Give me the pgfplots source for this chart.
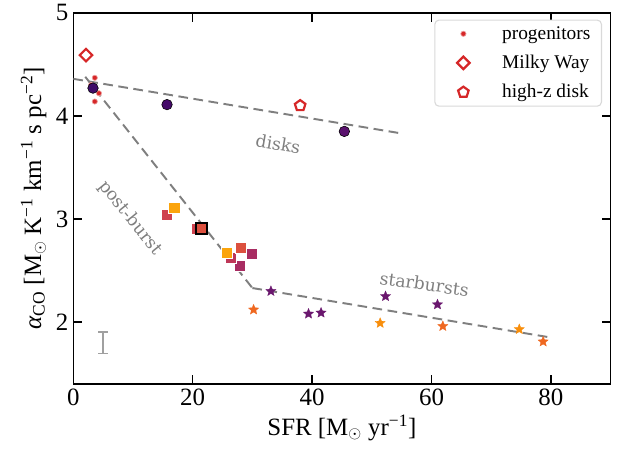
\documentclass[border=0pt]{standalone}
\usepackage{fontspec}
\setmainfont{Liberation Serif}
\newfontfamily\annfont{DejaVu Serif}
\usepackage{pgfplots}
\pgfplotsset{compat=1.18}
\usetikzlibrary{calc,plotmarks}

\definecolor{prog}{RGB}{214,39,40}
\definecolor{dgray}{RGB}{127,127,127}
\definecolor{ebar}{RGB}{160,160,160}
\definecolor{diskA}{RGB}{62,12,104}
\definecolor{diskB}{RGB}{68,10,104}
\definecolor{diskC}{RGB}{90,18,110}
\definecolor{sqOrange}{RGB}{251,164,12}
\definecolor{sqCrimson}{RGB}{207,66,78}
\definecolor{sqRed}{RGB}{220,80,62}
\definecolor{sqRose}{RGB}{190,55,88}
\definecolor{sqMaroon}{RGB}{168,44,98}
\definecolor{stPurple}{RGB}{106,23,110}
\definecolor{stOrange}{RGB}{248,142,12}
\definecolor{stRed}{RGB}{239,104,32}

\pgfdeclareplotmark{fstar}{%
  \pgfpathmoveto{\pgfpointpolar{90}{\pgfplotmarksize}}%
  \pgfpathlineto{\pgfpointpolar{126}{0.45*\pgfplotmarksize}}%
  \pgfpathlineto{\pgfpointpolar{162}{\pgfplotmarksize}}%
  \pgfpathlineto{\pgfpointpolar{198}{0.45*\pgfplotmarksize}}%
  \pgfpathlineto{\pgfpointpolar{234}{\pgfplotmarksize}}%
  \pgfpathlineto{\pgfpointpolar{270}{0.45*\pgfplotmarksize}}%
  \pgfpathlineto{\pgfpointpolar{306}{\pgfplotmarksize}}%
  \pgfpathlineto{\pgfpointpolar{342}{0.45*\pgfplotmarksize}}%
  \pgfpathlineto{\pgfpointpolar{18}{\pgfplotmarksize}}%
  \pgfpathlineto{\pgfpointpolar{54}{0.45*\pgfplotmarksize}}%
  \pgfpathclose
  \pgfusepathqfillstroke}

\begin{document}
\begin{tikzpicture}
\begin{axis}[
    width=5.373in, height=3.71in, scale only axis,
    xmin=0, xmax=90, ymin=1.4, ymax=5,
    xtick={0,20,40,60,80}, ytick={2,3,4,5},
    tick align=inside, major tick length=6.5pt,
    every tick/.style={black, line width=1pt},
    axis line style={line width=1.1pt},
    tick label style={font=\fontsize{18}{20}\selectfont},
    label style={font=\fontsize{18}{20}\selectfont},
    /pgf/number format/assume math mode=true,
    xlabel={SFR [M$_\odot$ yr\textsuperscript{−1}]},
    ylabel={{\itshape α}\textsubscript{CO} [M$_\odot$ K\textsuperscript{−1} km\textsuperscript{−1} s pc\textsuperscript{−2}]},
    legend cell align=left,
    legend image code/.code={%
        \path (0cm,-0.15cm) (1.4cm,0.15cm);
        \draw[mark repeat=2,mark phase=2,#1] plot coordinates {(0.25cm,0cm)(0.5cm,0cm)(0.75cm,0cm)};},
    legend style={at={(0.984,0.982)}, anchor=north east, draw=black!15,
        line width=0.8pt, rounded corners=3pt,
        font=\fontsize{14}{17}\selectfont, row sep=6pt,
        inner xsep=6pt, inner ysep=2.5pt},
]
\coordinate (sw) at (rel axis cs:0,0);
\coordinate (ne) at (rel axis cs:1,1);

% fits
\addplot[forget plot, dgray, line width=1.4pt, dash pattern=on 7pt off 4pt] coordinates {(0,4.36) (55,3.83)};
\addplot[forget plot, dgray, line width=1.4pt, dash pattern=on 7pt off 4pt] coordinates {(2,4.38) (30,2.33)};
\addplot[forget plot, dgray, line width=1.4pt, dash pattern=on 7pt off 4pt] coordinates {(30,2.33) (80,1.85)};

% legend series
\addplot[only marks, mark=*, mark size=1.9pt, mark options={fill=prog, draw=prog!45, line width=0.5pt}]
    coordinates {(3.6,4.37) (4.3,4.22) (3.6,4.14) (3.0,4.30)};
\addlegendentry{progenitors}
\addplot[only marks, mark=square, mark size=3.2pt, mark options={rotate=45, draw=prog, fill=white, line width=1.6pt}]
    coordinates {(2.13,4.59)};
\addlegendentry{Milky Way}
\addplot[only marks, mark=pentagon, mark size=4pt, mark options={draw=prog, fill=white, line width=1.6pt}]
    coordinates {(38.0,4.10)};
\addlegendentry{high-z disk}

% disks
\addplot[forget plot, only marks, mark=*, mark size=3.8pt, mark options={fill=diskA, draw=none}] coordinates {(3.3,4.27)};
\addplot[forget plot, only marks, mark=*, mark size=3.8pt, mark options={fill=diskB, draw=none}] coordinates {(15.7,4.11)};
\addplot[forget plot, only marks, mark=*, mark size=3.8pt, mark options={fill=diskC, draw=none}] coordinates {(45.4,3.85)};

% post-burst squares
\addplot[forget plot, only marks, mark=square*, mark size=4pt, mark options={fill=sqCrimson, draw=white, line width=0.3pt}] coordinates {(15.7,3.04) (20.7,2.91)};
\addplot[forget plot, only marks, mark=square*, mark size=4pt, mark options={fill=sqOrange, draw=white, line width=0.3pt}] coordinates {(16.9,3.11)};
\addplot[forget plot, only marks, mark=square*, mark size=4pt, mark options={fill=sqRed, draw=black, line width=1.5pt}] coordinates {(21.5,2.91)};
\addplot[forget plot, only marks, mark=square*, mark size=4pt, mark options={fill=sqMaroon, draw=white, line width=0.3pt}] coordinates {(29.9,2.66) (27.8,2.55)};
\addplot[forget plot, only marks, mark=square*, mark size=4pt, mark options={fill=sqRose, draw=white, line width=0.3pt}] coordinates {(26.4,2.62)};
\addplot[forget plot, only marks, mark=square*, mark size=4pt, mark options={fill=sqRed, draw=white, line width=0.3pt}] coordinates {(28.1,2.72)};
\addplot[forget plot, only marks, mark=square*, mark size=4pt, mark options={fill=sqOrange, draw=white, line width=0.3pt}] coordinates {(25.7,2.67)};

% starbursts
\addplot[forget plot, only marks, mark=fstar, mark size=3.9pt, mark options={fill=stPurple, draw=stPurple, line width=0.2pt}]
    coordinates {(33.1,2.30) (39.4,2.08) (41.5,2.09) (52.3,2.25) (61.0,2.17)};
\addplot[forget plot, only marks, mark=fstar, mark size=3.9pt, mark options={fill=stRed, draw=stRed, line width=0.2pt}]
    coordinates {(30.2,2.12) (61.9,1.96) (78.7,1.81)};
\addplot[forget plot, only marks, mark=fstar, mark size=3.9pt, mark options={fill=stOrange, draw=stOrange, line width=0.2pt}]
    coordinates {(51.4,1.99) (74.7,1.93)};

% typical uncertainty
\addplot[forget plot, draw=none, mark=none,
    error bars/.cd, y dir=both, y explicit,
    error bar style={draw=ebar, line width=1.3pt},
    error mark options={rotate=90, mark size=3.5pt, draw=ebar, line width=1.3pt}]
    coordinates {(5.0,1.80) +- (0,0.105)};

\node[rotate=-9.5, text=dgray, font=\annfont\fontsize{12.5}{14}\selectfont] at (axis cs:34.3,3.73) {disks};
\node[rotate=-51, text=dgray, font=\annfont\fontsize{12.5}{14}\selectfont] at (axis cs:9.5,3.01) {post-burst};
\node[rotate=-8, text=dgray, font=\annfont\fontsize{12.5}{14}\selectfont] at (axis cs:58.8,2.37) {starbursts};
\end{axis}
\path ($(sw)+(-0.733in,-0.717in)$) rectangle ($(ne)+(0.074in,0.073in)$);
\end{tikzpicture}
\end{document}
